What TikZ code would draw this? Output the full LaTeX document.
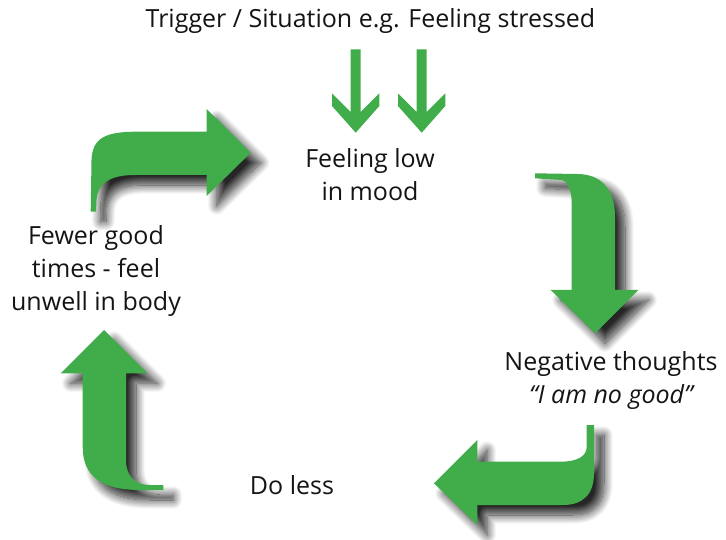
\documentclass[tikz,border=0pt]{standalone}
\usepackage{fontspec}
\setmainfont{Open Sans}
\usetikzlibrary{shadows.blur}
\definecolor{arrgreen}{RGB}{64,173,74}
\begin{document}
\begin{tikzpicture}[x=1pt,y=-1pt,
  big/.style={fill=arrgreen, blur shadow={shadow xshift=10pt, shadow yshift=-10pt, shadow blur radius=9pt, shadow opacity=85, shadow blur steps=14}},
  small/.style={fill=arrgreen},
  lbl/.style={font=\fontsize{25}{33}\selectfont, text=black!92, inner sep=0pt, anchor=base}]
\useasboundingbox (0,0) rectangle (726,540);

% labels
\node[lbl] (trig) at (370.5,28) {Trigger / Situation e.g. Feeling stressed};
\node[lbl] (feel1) at (370,168) {Feeling low};
\node[lbl] (feel2) at (370,201) {in mood};
\node[lbl] (fewer1) at (96,245) {Fewer good};
\node[lbl] (fewer2) at (96,278) {times - feel};
\node[lbl] (fewer3) at (96,310) {unwell in body};
\node[lbl] (neg1) at (611,370) {Negative thoughts};
\node[lbl] (neg2) at (611,403) {\itshape “I am no good”};
\node[lbl] (doless) at (292,494) {Do less};

% small arrows from trigger
\foreach \dx in {0,66}{
  \fill[small, xshift=\dx pt] (350.7,49.3) -- (360.7,49.3) -- (360.7,112) -- (379.3,93.3) -- (379.3,106)
    -- (355.7,132.7) -- (332,106) -- (332,93.3) -- (350.7,112) -- cycle;
}

% top-left arrow
\path[big] (90.7,211.7) -- (91.5,160) .. controls (92.5,138) and (105,131.7) .. (137,131.7)
  -- (206.7,131.7) -- (206.7,109) -- (250.7,152.7) -- (206.7,196) -- (206.7,175)
  -- (135,175) .. controls (110,175) and (98,183) .. (96.5,200) -- (96,211.7) -- cycle;

% right arrow (down)
\path[big] (535,173.3) -- (576.7,174) .. controls (602,174) and (615,190) .. (615,216.7)
  -- (615,290) -- (638.3,290) -- (595,333.3) -- (550.7,290) -- (571.7,290)
  -- (571.7,203.3) .. controls (571.7,188) and (566,180) .. (561.7,180) -- (535,178.3) -- cycle;

% bottom arrow (left)
\path[big] (586.7,425) -- (594,425) -- (594,473.3) .. controls (594,495) and (582,505) .. (563.3,505)
  -- (477.3,505) -- (477.3,525) -- (434,483.3) -- (477.3,440) -- (477.3,461.7)
  -- (560,461.7) .. controls (578,461.7) and (586.7,456) .. (586.7,446.7) -- cycle;

% left arrow (up)
\path[big] (104,330) -- (147.3,373.3) -- (126,373.3) -- (126,460)
  .. controls (126,477) and (136,485) .. (150,485) -- (163.3,485) -- (163.3,490)
  -- (140,490) .. controls (100,490) and (82.7,475) .. (82.7,446.7) -- (82.7,373.3)
  -- (60.7,373.3) -- cycle;
\end{tikzpicture}
\end{document}
